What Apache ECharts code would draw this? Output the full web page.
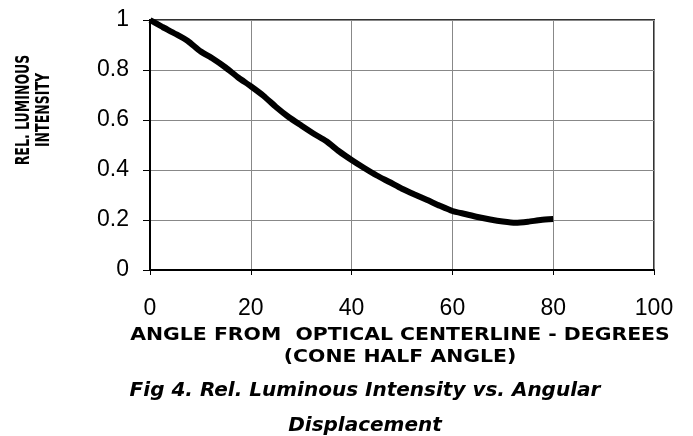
<!DOCTYPE html>
<html>
<head>
<meta charset="utf-8">
<script src="https://cdn.jsdelivr.net/npm/echarts@6/dist/echarts.min.js"></script>
<style>
html,body{margin:0;padding:0;background:#fff;}
#chart{width:693px;height:436px;}
</style>
</head>
<body>
<div id="chart"></div>
<script>
// Data
const angles = [0, 2.5, 5, 7.5, 10, 12.5, 15, 17.5, 20, 22.5, 25, 27.5, 30, 32.5, 35, 37.5, 40,
  42.5, 45, 47.5, 50, 52.5, 55, 57.5, 60, 62.5, 65, 67.5, 70, 72.5, 75, 77.5, 80];
const intensity = [1.0, 0.972, 0.945, 0.916, 0.875, 0.845, 0.81, 0.77, 0.735, 0.697, 0.652, 0.612,
  0.578, 0.545, 0.515, 0.475, 0.44, 0.408, 0.378, 0.352, 0.325, 0.302, 0.28, 0.257, 0.236,
  0.224, 0.212, 0.202, 0.194, 0.189, 0.193, 0.2, 0.204];
const xTitle = 'ANGLE FROM  OPTICAL CENTERLINE - DEGREES\n(CONE HALF ANGLE)';
const yTitle = 'REL. LUMINOUS\nINTENSITY';
const caption1 = 'Fig 4. Rel. Luminous Intensity vs. Angular';
const caption2 = 'Displacement';

const chart = echarts.init(document.getElementById('chart'), null, {renderer: 'canvas'});
const seriesData = angles.map((a, i) => [a, intensity[i]]);
const labelFont = '"Liberation Sans", Arial, Helvetica, sans-serif';

chart.setOption({
  animation: false,
  backgroundColor: '#fff',
  grid: {
    left: 150, right: 39, top: 20, bottom: 166,
    show: true, borderColor: '#333', borderWidth: 2, backgroundColor: 'transparent'
  },
  xAxis: {
    type: 'value', min: 0, max: 100, interval: 20,
    axisLine: {show: true, onZero: false, lineStyle: {color: '#000', width: 2}},
    axisTick: {show: true, inside: false, length: 5, lineStyle: {color: '#000', width: 1}},
    axisLabel: {color: '#000', fontSize: 23, fontFamily: labelFont, margin: 27},
    splitLine: {show: true, lineStyle: {color: '#888', width: 1}}
  },
  yAxis: {
    type: 'value', min: 0, max: 1, interval: 0.2,
    axisLine: {show: true, onZero: false, lineStyle: {color: '#000', width: 2}},
    axisTick: {show: true, inside: false, length: 7, lineStyle: {color: '#000', width: 1}},
    axisLabel: {color: '#000', fontSize: 23, fontFamily: labelFont, margin: 21,
      formatter: v => String(parseFloat(v.toFixed(1)))},
    splitLine: {show: true, lineStyle: {color: '#888', width: 1}}
  },
  series: [{
    type: 'line',
    data: seriesData,
    showSymbol: false,
    smooth: 0.2,
    lineStyle: {color: '#000', width: 6},
    z: 5
  }],
  graphic: [
    {
      type: 'text', x: 400, y: 347, scaleX: 1.2,
      style: {text: xTitle, font: 'bold 17px "DejaVu Sans"', fill: '#000',
        textAlign: 'center', textVerticalAlign: 'middle', lineHeight: 22}
    },
    {
      type: 'text', x: 34, y: 110, rotation: Math.PI / 2, scaleX: 0.66,
      style: {text: yTitle, font: 'bold 19px "DejaVu Sans"', fill: '#000',
        textAlign: 'center', textVerticalAlign: 'middle', lineHeight: 20}
    },
    {
      type: 'text', x: 365, y: 391,
      style: {text: caption1, font: 'italic bold 20px "DejaVu Sans"', fill: '#000',
        textAlign: 'center', textVerticalAlign: 'middle'}
    },
    {
      type: 'text', x: 365, y: 426,
      style: {text: caption2, font: 'italic bold 20px "DejaVu Sans"', fill: '#000',
        textAlign: 'center', textVerticalAlign: 'middle'}
    }
  ]
});
</script>
</body>
</html>
